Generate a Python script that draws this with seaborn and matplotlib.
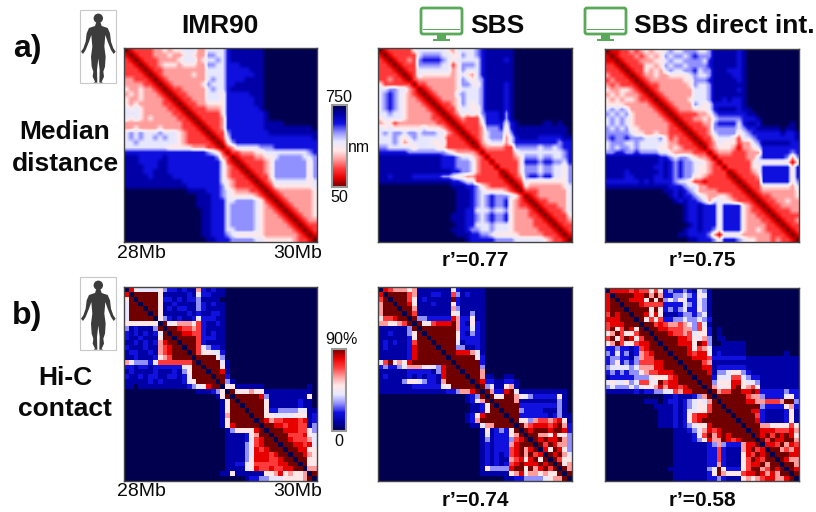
import numpy as np
import seaborn as sns
import matplotlib
matplotlib.use('Agg')
import matplotlib.pyplot as plt
from matplotlib.colors import LinearSegmentedColormap
from matplotlib.patches import Circle, FancyBboxPatch, Polygon, Rectangle

# lower triangle of each map, one digit per bin (row i has i digits), diagonal added later
# median distance: 0 = closest (50 nm), 9 = farthest (750 nm)
median_imr90 = [
    "1", "21", "221", "2221", "22221", "33222 1", "33332 21", "43343 321", "34343 3321", "43343 33321",
    "43433 33322 1", "54543 33332 21", "55543 33333 221", "54543 43333 3221", "33333 33333 33221",
    "33433 33433 33222 1", "56565 55655 54322 21", "56565 56565 54322 221", "55655 55555 54322 2221",
    "55555 55554 44443 33221", "77777 77777 77777 77654 2", "88877 77787 77777 77776 32",
    "88877 77887 77777 77777 521", "88887 77887 77777 77777 5321", "88887 78887 77777 77777 53221",
    "88888 78888 77777 77777 53222 1", "88888 88888 88777 77777 54322 21", "88888 88888 88877 77777 64322 221",
    "99999 99999 99988 88777 65433 3221", "99999 99999 99999 88877 65444 44321",
    "99999 99999 99999 88877 75566 66542 1", "99999 99999 99999 88877 75666 66543 21",
    "99999 99999 99999 98877 75666 66543 321", "99999 99999 99999 98877 75666 66543 3321",
    "99999 99999 99999 98877 75666 66543 33321", "99999 99999 99999 98877 75666 66543 33332 1",
    "99999 99999 99999 98877 75566 66543 33333 21", "99999 99999 99999 98877 76544 44443 33333 321",
    "99999 99999 99999 99887 77666 66554 44444 3221",
]
median_sbs = [
    "1", "21", "221", "2221", "22221", "22322 1", "42222 22", "55665 532", "56765 4321", "56765 43321",
    "56765 43332 1", "56765 43333 21", "55655 43333 321", "45555 43333 3221", "34423 33333 33221",
    "54544 44445 44432 1", "56566 56656 66553 21", "55565 45655 55542 221", "55565 34555 54452 2221",
    "66555 55455 55442 22221", "77777 76666 66665 43333 2", "88888 88888 88877 76554 32",
    "88888 88888 88877 76665 322", "88888 88888 88877 76665 3222", "88888 88888 88888 77665 32222",
    "88788 88777 77766 54433 22222 1", "88888 88888 88888 77655 22222 21", "99999 99999 99999 88877 64322 221",
    "99999 99999 99999 98887 65444 4321", "99999 99999 99999 98887 65676 66542",
    "99999 99999 99999 98887 65676 67432 1", "99999 99999 99999 98887 65676 67432 21",
    "99999 99999 99999 98877 55565 56433 321", "99999 99999 99999 88877 65676 67433 3221",
    "99999 99999 99999 88877 65676 67433 33221", "99999 99999 99999 98877 55565 55433 33222 1",
    "99999 99999 99999 88876 65565 55433 33322 21", "99999 99999 99999 98887 76654 44443 33332 221",
    "99999 99999 99999 99987 77776 66655 55554 3221",
]
median_direct = [
    "1", "11", "221", "2221", "32221", "23222 1", "32322 21", "43344 321", "34343 3321", "43434 43221",
    "44443 33332 1", "56565 33333 21", "65656 43333 321", "56565 43333 3321", "56565 43333 33321",
    "65656 44333 33322 1", "66666 54433 43322 21", "67667 66655 56423 221", "56665 56555 55433 2221",
    "56566 56555 54434 32221", "66776 67666 65543 33322 2", "88888 88888 87765 66543 32",
    "88888 88888 87876 76655 432", "88888 88888 77876 76654 4322", "88887 88888 87876 76654 43222",
    "88887 78888 77876 76644 32222 1", "77777 77878 77776 55422 12222 21", "88888 88888 88877 76553 32222 221",
    "99999 99999 99887 87653 33322 2221", "99999 99999 99987 87765 43344 32221",
    "99999 99999 99998 78776 53554 43222 1", "99999 99999 99999 98778 77747 77743 21",
    "99999 99999 99999 98778 77747 77743 221", "99999 99999 99999 98778 77747 77743 3221",
    "99999 99999 99999 98778 77747 77743 33221", "99999 99999 99999 99878 77747 77743 33322 1",
    "99999 99999 99999 98778 77647 77743 34322 21", "99999 99999 99999 88777 76314 44433 33332 221",
    "99999 99999 99999 99887 77647 77654 43332 3221",
]
# hi-c contact: 0 = no contact, 9 = 90 %
hic_imr90 = [
    "8", "59", "499", "4999", "49999", "49999 9", "55555 55", "31211 139", "21212 1249", "21121 11599",
    "11212 12689 9", "21112 11678 99", "12211 21678 999", "11211 12567 9999", "64333 24777 77779",
    "22122 12222 22459 9", "12111 12111 21359 99", "21121 22112 21249 999", "11111 21211 11245 9999",
    "11011 11111 11123 45899", "00000 00000 00000 11123 5", "00000 00000 00000 00001 59",
    "00000 00000 00000 00000 159", "00000 00000 00000 00000 1599", "00000 00000 00000 00000 15999",
    "00000 00000 00000 00000 16999 9", "00000 00000 00000 00000 15999 99", "00000 00000 00000 00000 15899 999",
    "00000 00000 00000 00000 01355 5589", "00000 00000 00000 00000 01111 25699",
    "00000 00000 00000 00000 01111 24789 9", "00000 00000 00000 00000 01111 34789 99",
    "00000 00000 00000 00000 01111 34878 999", "00000 00000 00000 00000 01111 34888 7899",
    "00000 00000 00000 00000 01111 35888 77899", "00000 00000 00000 00000 01122 45777 77889 9",
    "00000 00000 00000 00000 01111 45877 87788 99", "00000 00000 00000 00000 11511 11115 56856 556",
    "00000 00000 00000 00000 00000 12233 44455 5569",
]
hic_sbs = [
    "8", "79", "699", "6999", "69999", "57789 9", "66556 79", "11111 139", "11211 1359", "11111 12599",
    "12121 12799 9", "12111 12899 99", "11111 12899 999", "11111 12899 9999", "47956 58999 99999",
    "23223 46665 54389 9", "11111 12222 21389 99", "12111 12121 22189 999", "11111 35543 22169 9999",
    "11111 11222 22245 99999", "11111 11111 11112 23668 9", "00000 00000 00000 00012 39",
    "00000 00000 00000 00012 469", "00000 00000 00000 00001 1259", "00000 00000 00000 00001 12599",
    "00000 00000 00000 00012 58999 9", "00000 00000 00000 00012 69999 99", "00000 00000 00000 00001 14669 999",
    "00000 00000 00000 00000 01512 3259", "00000 00000 00000 00000 01412 22569",
    "00000 00000 00000 00000 01312 22378 9", "00000 00000 00000 00000 01212 22689 99",
    "00000 00000 00000 00000 01212 22789 689", "00000 00000 00000 00000 01212 12789 6978",
    "00000 00000 00000 00000 01212 11678 58959", "00000 00000 00000 00000 01212 12789 88898 9",
    "00000 00000 00000 00000 01533 33899 59689 79", "00000 00000 00000 00000 01111 11568 56656 559",
    "00000 00000 00000 00000 00000 01122 33334 5669",
]
hic_direct = [
    "8", "89", "899", "8999", "79899", "88899 9", "78889 99", "79579 859", "56975 5799", "79579 85799",
    "56975 57889 9", "22322 12789 99", "32423 12678 999", "23322 13677 9999", "23523 23777 88999",
    "34444 34666 88999 9", "23232 33567 78889 99", "12222 23334 55578 999", "45445 34775 49788 9999",
    "34333 43455 68688 78999", "11111 12122 33447 68899 9", "00000 00000 00112 11123 69",
    "00000 00011 10122 12345 469", "00000 00000 11112 12345 5799", "00000 00000 01112 12445 57999",
    "00000 00000 01112 12578 89999 9", "00000 00000 01112 12578 99999 99", "00000 00000 01112 12345 58999 999",
    "00000 00000 00001 11234 68789 9999", "00000 00000 00001 11124 79689 89999",
    "00000 00000 00001 11123 58669 87899 9", "00000 00000 00001 11111 12363 22268 89",
    "00000 00000 00001 11111 12272 11168 978", "00000 00000 00001 11111 12272 11158 7989",
    "00000 00000 00001 11111 12272 11157 98799", "00000 00000 00001 11111 12262 11157 88969 9",
    "00000 00000 00011 11111 13495 22257 99679 89", "00000 00000 00001 11111 12596 55578 89868 699",
    "00000 00000 00001 11111 12232 11156 56788 6689",
]
titles = ["IMR90", "SBS", "SBS direct int."]
scores_median = ["r’=0.77", "r’=0.75"]
scores_hic = ["r’=0.74", "r’=0.58"]

W, H = 816, 512
BODY = [(6, 66), (10, 78), (28, 84), (35, 100), (38, 125), (45, 145), (52, 155), (46, 162), (38, 150),
        (28, 125), (21, 105), (18, 140), (22, 170), (20, 200), (15, 215), (17, 230), (10, 245), (14, 248),
        (3, 248), (4, 210), (0, 175)]


def to_matrix(rows, diag):
    n = len(rows) + 1
    mat = np.full((n, n), float(diag))
    for i, row in enumerate(rows):
        digits = row.replace(" ", "")
        if len(digits) != i + 1:
            print("bad row", i + 1, len(digits))
        digits = digits.ljust(i + 1, digits[-1])[:i + 1]
        for j, d in enumerate(digits):
            mat[i + 1, j] = mat[j, i + 1] = int(d)
    return mat


def px_axes(x0, y0, x1, y1):
    return fig.add_axes([x0 / W, 1 - y1 / H, (x1 - x0) / W, (y1 - y0) / H])


def draw_map(box, rows, diag, cmap, bar_box=None, smooth=False):
    ax = px_axes(*box)
    cax = px_axes(*bar_box) if bar_box else None
    mat = to_matrix(rows, diag)
    sns.heatmap(mat, vmin=0, vmax=9, cmap=cmap, cbar=bar_box is not None, cbar_ax=cax,
                xticklabels=False, yticklabels=False, ax=ax)
    if smooth:
        # top row of the reference is a blurred image, so same cells are shown with bilinear display
        n = mat.shape[0]
        ax.imshow(mat, vmin=0, vmax=9, cmap=cmap, interpolation='bilinear', extent=(0, n, n, 0),
                  aspect='auto', zorder=2)
    for s in ax.spines.values():
        s.set_visible(True)
        s.set_color('#444444')
        s.set_linewidth(1)
    if cax is not None:
        cbar = ax.collections[0].colorbar
        cbar.set_ticks([])
        cbar.outline.set_visible(True)
        cbar.outline.set_edgecolor('#999999')
        cbar.outline.set_linewidth(1.5)


def person(over, dy):
    over.add_patch(Rectangle((80, 10 + dy), 36, 73, fc='white', ec='#c8c8c8', lw=0.8))
    cx = 295
    half = [(cx + x, y) for x, y in BODY]
    other = [(cx - x, y) for x, y in reversed(BODY)]
    pts = [(x / 3, y / 3 + dy) for x, y in half + other]
    over.add_patch(Polygon(pts, closed=True, fc='#3c3c3c', ec='none'))
    over.add_patch(Circle((98.3, 18.3 + dy), 4.7, fc='#3c3c3c', ec='none'))


def monitor(over, x):
    green = '#5aa85a'
    over.add_patch(FancyBboxPatch((x + 1, 8), 41, 26, boxstyle='round,pad=0,rounding_size=2', fc='white', ec=green, lw=2))
    over.add_patch(Rectangle((x + 17, 34), 9, 5, fc=green, ec='none'))
    over.add_patch(Rectangle((x + 13, 39), 17, 2, fc=green, ec='none'))
    over.add_patch(Rectangle((x + 3, 29), 37, 1.2, fc=green, ec='none'))


sns.set_theme(style='white')
plt.rcParams['font.family'] = ['Liberation Sans', 'DejaVu Sans']

dist_cmap = LinearSegmentedColormap.from_list('dist', [
    '#700000', '#e80000', '#ff3a3a', '#ff9c9c', '#ffe8e8', '#e8e8ff', '#9090ff', '#1010e0', '#0000a8', '#00004f'])
contact_cmap = dist_cmap.reversed()

fig = plt.figure(figsize=(W / 100, H / 100), dpi=100, facecolor='white')

draw_map((124, 48, 317, 242), median_imr90, 0, dist_cmap, (332, 105, 347, 187), smooth=True)
draw_map((378, 48, 572, 242), median_sbs, 0, dist_cmap, smooth=True)
draw_map((605, 49, 799, 242), median_direct, 0, dist_cmap, smooth=True)
draw_map((124, 287, 317, 481), hic_imr90, 0, contact_cmap, (332, 349, 346, 431))
draw_map((378, 287, 572, 481), hic_sbs, 0, contact_cmap)
draw_map((605, 288, 799, 481), hic_direct, 0, contact_cmap)

over = px_axes(0, 0, W, H)
over.set_xlim(0, W)
over.set_ylim(H, 0)
over.axis('off')
over.patch.set_alpha(0)

person(over, 0)
person(over, 267)
monitor(over, 420)
monitor(over, 584)


def label(x, y, s, size, bold=True, ha='center'):
    over.text(x, y, s, fontsize=size, fontweight='bold' if bold else 'normal', ha=ha, va='center', color='#0a0a0a')


label(27, 49, "a)", 23)
label(27, 316, "b)", 23)
label(220, 26, titles[0], 19)
label(470, 26, titles[1], 19, ha='left')
label(634, 26, titles[2], 19, ha='left')
label(65, 132, "Median", 19)
label(65, 164, "distance", 19)
label(65, 378, "Hi-C", 19)
label(65, 409, "contact", 19)
label(475, 261, scores_median[0], 15)
label(702, 261, scores_median[1], 15)
label(475, 500, scores_hic[0], 15)
label(702, 500, scores_hic[1], 15)
for y in (254, 492):
    label(141, y, "28Mb", 14, bold=False)
    label(298, y, "30Mb", 14, bold=False)
label(339, 97, "750", 11.6, bold=False)
label(339, 197, "50", 11.6, bold=False)
label(359, 147, "nm", 11.3, bold=False)
label(341, 340, "90%", 11.6, bold=False)
label(339, 442, "0", 11.6, bold=False)

plt.savefig('out.png', dpi=100)
